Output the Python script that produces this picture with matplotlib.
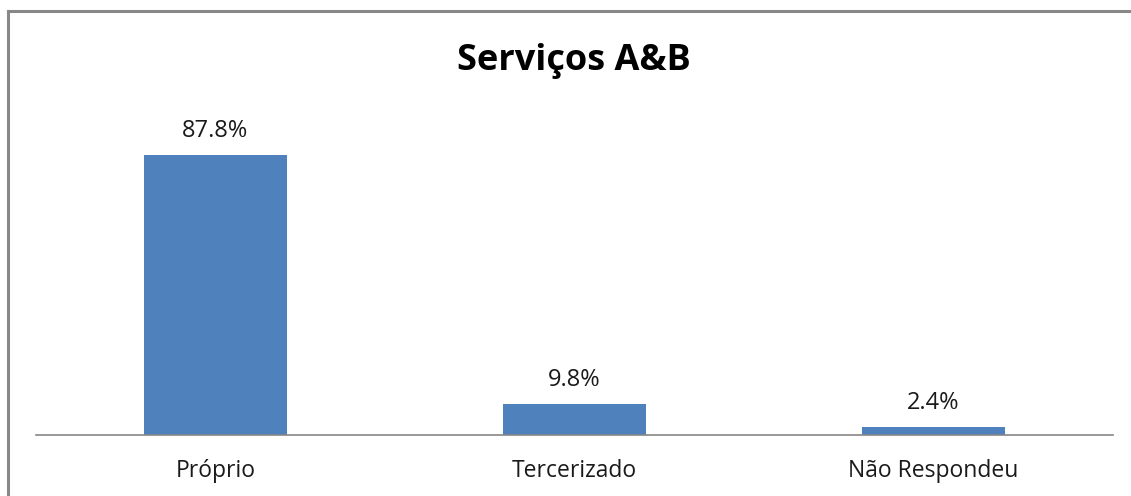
import matplotlib.pyplot as plt
from matplotlib.lines import Line2D

categorias = ['Próprio', 'Tercerizado', 'Não Respondeu']
percentuais = [87.8, 9.8, 2.4]
rotulos = ['87.8%', '9.8%', '2.4%']
titulo = 'Serviços A&B'

plt.rcParams['font.family'] = ['Open Sans', 'DejaVu Sans']

fig = plt.figure(figsize=(11.31, 4.96), dpi=100)
ax = fig.add_axes([0.0318, 0.123, 0.9523, 0.643])

x = range(len(categorias))
barras = ax.bar(x, percentuais, width=0.4, color='#4F81BD')

for b, txt in zip(barras, rotulos):
    ax.annotate(txt, (b.get_x() + b.get_width() / 2, b.get_height()),
                xytext=(0, 13), textcoords='offset points',
                ha='center', va='baseline', fontsize=17, color='#1a1a1a')

ax.set_xlim(-0.5, 2.5)
ax.set_ylim(0, 100)
ax.set_xticks(list(x))
ax.set_xticklabels(categorias, fontsize=16.5, color='#1a1a1a')
ax.tick_params(axis='x', length=0, pad=17)
ax.set_yticks([])
for s in ['top', 'right', 'left']:
    ax.spines[s].set_visible(False)
ax.spines['bottom'].set_color('#868686')
ax.spines['bottom'].set_linewidth(1.2)

fig.text(0.5075, 1 - 70 / 496, titulo, ha='center', va='baseline',
         fontsize=26, fontweight='bold', color='black')

# moldura cortada (só esquerda e topo)
fig.add_artist(Line2D([7.5 / 1131, 7.5 / 1131], [0, 1 - 10.5 / 496],
                      color='#888888', lw=2.2, transform=fig.transFigure))
fig.add_artist(Line2D([7.5 / 1131, 1], [1 - 10.5 / 496, 1 - 10.5 / 496],
                      color='#888888', lw=2.2, transform=fig.transFigure))

fig.savefig('out.png', dpi=100)
